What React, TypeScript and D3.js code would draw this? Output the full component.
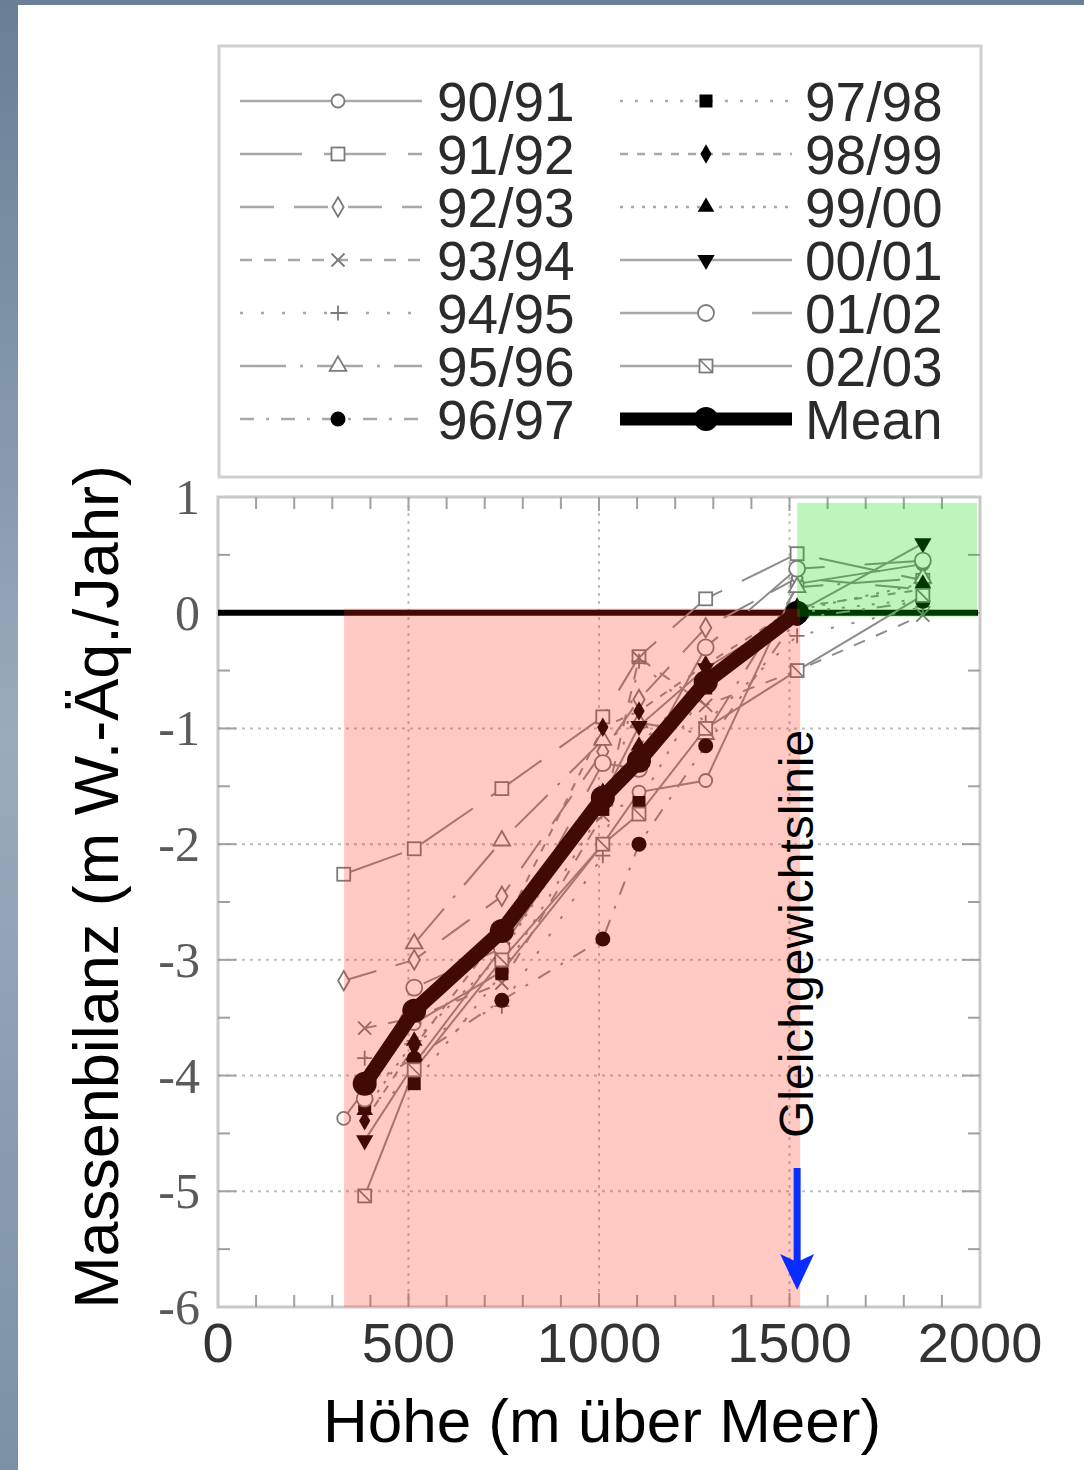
import React, { useRef, useEffect } from "react";
import * as d3 from "d3";

// elevation bands (m above sea level) where the stakes were read
const elevations = [330, 385, 515, 745, 1010, 1105, 1280, 1520, 1850];

// mass balance per year (m w.e.), null where no value
const b9091 = [-4.37, null, -3.55, -3.1, -2.0, -1.55, -1.45, 0.25, 0.42];
const b9192 = [-2.26, null, -2.04, -1.52, -0.9, -0.38, 0.12, 0.51, 0.28];
const b9293 = [-3.18, null, -3.0, -2.45, -1.2, -0.75, -0.13, 0.3, 0.2];
const b9394 = [null, -3.59, -3.5, -3.2, -1.75, -0.39, -0.8, -0.5, -0.02];
const b9495 = [null, -3.85, -3.7, -3.4, -2.1, -0.42, -0.95, -0.2, 0.05];
const b9596 = [null, null, -2.86, -1.97, -1.1, -0.95, -1.05, 0.22, 0.3];
const b9697 = [null, -4.1, -3.85, -3.35, -2.82, -2.0, -1.15, -0.05, 0.1];
const b9798 = [null, -4.25, -4.07, -3.12, -1.7, -1.64, -0.65, 0.0, 0.12];
const b9899 = [null, -4.39, -3.75, -2.75, -0.99, -0.85, -0.45, 0.05, 0.2];
const b9900 = [null, -4.3, -3.7, -2.95, -1.55, -1.15, -0.55, 0.02, 0.25];
const b0001 = [null, -4.56, -3.9, -2.9, -1.6, -0.98, -0.48, 0.0, 0.6];
const b0102 = [null, -4.2, -3.24, -2.9, -1.3, -1.35, -0.3, 0.38, 0.45];
const b0203 = [null, -5.04, -3.95, -3.0, -2.0, -1.74, -1.0, -0.5, 0.15];
const bMean = [null, -4.07, -3.44, -2.75, -1.6, -1.28, -0.6, 0.0, null];

const seriesLabels = ["90/91", "91/92", "92/93", "93/94", "94/95", "95/96", "96/97",
  "97/98", "98/99", "99/00", "00/01", "01/02", "02/03"];
const seriesValues = [b9091, b9192, b9293, b9394, b9495, b9596, b9697,
  b9798, b9899, b9900, b0001, b0102, b0203];
const seriesMarkers = ["circle", "square", "diamond", "x", "plus", "triangle", "dot",
  "fsquare", "fdiamond", "ftriangle", "ftriangleDown", "circleBig", "slashBox"];
const seriesDashes = ["", "62,22", "34,20", "12,12", "3,18", "46,14,3,14", "14,12,3,12",
  "3,12", "8,9", "3,8", "", "92,40", ""];

const xTicks = [0, 500, 1000, 1500, 2000];
const yTicks = [1, 0, -1, -2, -3, -4, -5, -6];

// ablation / accumulation zones
const ablationZone = { x0: 331, x1: 1528, y0: 0.035, y1: -6 };
const accumZone = { x0: 1520, x1: 1992, y0: 0.95, y1: -0.035 };
const elaElevation = 1520;

const SANS = "Liberation Sans, Arial, Helvetica, sans-serif";
const SERIF = "Liberation Serif, Times New Roman, serif";
const LINE_GRAY = "#8c8c8c";
const MARK_GRAY = "#7a7a7a";

function drawMarker(g, type, cx, cy) {
  const s = 6.5;
  const m = g.append("g").attr("transform", `translate(${cx},${cy})`);
  const open = (sel) => sel.attr("fill", "white").attr("stroke", MARK_GRAY).attr("stroke-width", 1.8);
  const filled = (sel) => sel.attr("fill", "black").attr("stroke", "none");
  switch (type) {
    case "circle":
      open(m.append("circle").attr("r", s));
      break;
    case "circleBig":
      open(m.append("circle").attr("r", s + 1.5));
      break;
    case "square":
      open(m.append("rect").attr("x", -s).attr("y", -s).attr("width", 2 * s).attr("height", 2 * s));
      break;
    case "slashBox":
      open(m.append("rect").attr("x", -s).attr("y", -s).attr("width", 2 * s).attr("height", 2 * s));
      m.append("line").attr("x1", -s).attr("y1", -s).attr("x2", s).attr("y2", s)
        .attr("stroke", MARK_GRAY).attr("stroke-width", 1.6);
      break;
    case "diamond":
      open(m.append("path").attr("d", d3.symbol(d3.symbolDiamond, 110)()));
      break;
    case "triangle":
      open(m.append("path").attr("d", d3.symbol(d3.symbolTriangle, 120)()));
      break;
    case "x":
      m.append("path").attr("d", `M${-s},${-s}L${s},${s}M${-s},${s}L${s},${-s}`)
        .attr("stroke", MARK_GRAY).attr("stroke-width", 1.8);
      break;
    case "plus":
      m.append("path").attr("d", `M${-s - 1},0L${s + 1},0M0,${-s - 1}L0,${s + 1}`)
        .attr("stroke", MARK_GRAY).attr("stroke-width", 1.8);
      break;
    case "dot":
      filled(m.append("circle").attr("r", s + 1));
      break;
    case "fsquare":
      filled(m.append("rect").attr("x", -s).attr("y", -s).attr("width", 2 * s).attr("height", 2 * s));
      break;
    case "fdiamond":
      filled(m.append("path").attr("d", d3.symbol(d3.symbolDiamond, 110)()));
      break;
    case "ftriangle":
      filled(m.append("path").attr("d", d3.symbol(d3.symbolTriangle, 120)()));
      break;
    case "ftriangleDown":
      filled(m.append("path").attr("d", d3.symbol(d3.symbolTriangle, 130)()).attr("transform", "rotate(180)"));
      break;
    default:
      break;
  }
}

function MassBalanceChart() {
  const svgRef = useRef(null);

  useEffect(() => {
    const svg = d3.select(svgRef.current);
    svg.selectAll("*").remove();

    const W = 1084;
    const H = 1470;
    const x = d3.scaleLinear().domain([0, 2000]).range([218, 980]);
    const y = d3.scaleLinear().domain([-6, 1]).range([1307, 497]);

    // page background + white slide
    const grad = svg.append("defs").append("linearGradient")
      .attr("id", "bg").attr("x1", 0).attr("y1", 0).attr("x2", 0).attr("y2", 1);
    grad.append("stop").attr("offset", "0%").attr("stop-color", "#687f96");
    grad.append("stop").attr("offset", "50%").attr("stop-color", "#9aabbb");
    grad.append("stop").attr("offset", "100%").attr("stop-color", "#7c91a6");
    svg.append("rect").attr("width", W).attr("height", H).attr("fill", "url(#bg)");
    svg.append("rect").attr("x", 18).attr("y", 5).attr("width", W - 18).attr("height", H - 5).attr("fill", "white");

    // ---------- legend ----------
    const legend = svg.append("g");
    legend.append("rect").attr("x", 219).attr("y", 46).attr("width", 762).attr("height", 431)
      .attr("fill", "white").attr("stroke", "#cfcfcf").attr("stroke-width", 3);

    const legendItems = seriesLabels.map((label, i) => ({
      label, marker: seriesMarkers[i], dash: seriesDashes[i], mean: false,
    }));
    legendItems.push({ label: "Mean", marker: "mean", dash: "", mean: true });

    legendItems.forEach((item, i) => {
      const col = i < 7 ? 0 : 1;
      const row = i % 7;
      const cy = 101 + row * 53;
      const lx0 = col === 0 ? 240 : 620;
      const lx1 = col === 0 ? 422 : 792;
      const mx = col === 0 ? 338 : 706;
      const tx = col === 0 ? 437 : 805;
      if (item.mean) {
        legend.append("line").attr("x1", lx0).attr("x2", lx1).attr("y1", cy).attr("y2", cy)
          .attr("stroke", "black").attr("stroke-width", 13);
        legend.append("circle").attr("cx", mx).attr("cy", cy).attr("r", 12).attr("fill", "black");
      } else {
        legend.append("line").attr("x1", lx0).attr("x2", lx1).attr("y1", cy).attr("y2", cy)
          .attr("stroke", "#a8a8a8").attr("stroke-width", 2.5)
          .attr("stroke-dasharray", item.dash || null);
        drawMarker(legend, item.marker, mx, cy);
      }
      legend.append("text").attr("x", tx).attr("y", cy + 20)
        .attr("font-family", SANS).attr("font-size", 55).attr("fill", "#2b2b2b")
        .text(item.label);
    });

    // ---------- plot frame, grid, ticks ----------
    const plot = svg.append("g");
    plot.append("rect").attr("x", x(0)).attr("y", y(1)).attr("width", x(2000) - x(0)).attr("height", y(-6) - y(1))
      .attr("fill", "white").attr("stroke", "#c8c8c8").attr("stroke-width", 3);

    [500, 1000, 1500].forEach((v) => {
      plot.append("line").attr("x1", x(v)).attr("x2", x(v)).attr("y1", y(1)).attr("y2", y(-6))
        .attr("stroke", "#bdbdbd").attr("stroke-width", 2).attr("stroke-dasharray", "3,5");
    });
    [-1, -2, -3, -4, -5].forEach((v) => {
      plot.append("line").attr("x1", x(0)).attr("x2", x(2000)).attr("y1", y(v)).attr("y2", y(v))
        .attr("stroke", "#bdbdbd").attr("stroke-width", 2).attr("stroke-dasharray", "3,5");
    });

    d3.range(100, 2000, 100).forEach((v) => {
      const len = v % 500 === 0 ? 14 : 12;
      plot.append("line").attr("x1", x(v)).attr("x2", x(v)).attr("y1", y(1)).attr("y2", y(1) + len)
        .attr("stroke", "#a0a0a0").attr("stroke-width", 2);
      plot.append("line").attr("x1", x(v)).attr("x2", x(v)).attr("y1", y(-6)).attr("y2", y(-6) - len)
        .attr("stroke", "#a0a0a0").attr("stroke-width", 2);
    });
    d3.range(-5.5, 1, 0.5).forEach((v) => {
      const len = Number.isInteger(v) ? 18 : 12;
      plot.append("line").attr("x1", x(0)).attr("x2", x(0) + len).attr("y1", y(v)).attr("y2", y(v))
        .attr("stroke", "#a0a0a0").attr("stroke-width", 2);
      plot.append("line").attr("x1", x(2000)).attr("x2", x(2000) - len).attr("y1", y(v)).attr("y2", y(v))
        .attr("stroke", "#a0a0a0").attr("stroke-width", 2);
    });

    // zero line
    plot.append("line").attr("x1", x(0)).attr("x2", x(2000) - 2).attr("y1", y(0)).attr("y2", y(0))
      .attr("stroke", "black").attr("stroke-width", 6);

    // ---------- data ----------
    const line = d3.line()
      .defined((d) => d[1] !== null)
      .x((d) => x(d[0]))
      .y((d) => y(d[1]));

    seriesValues.forEach((vals, i) => {
      const pts = elevations.map((e, j) => [e, vals[j]]);
      plot.append("path").attr("d", line(pts.filter((p) => p[1] !== null)))
        .attr("fill", "none").attr("stroke", LINE_GRAY).attr("stroke-width", 2)
        .attr("stroke-dasharray", seriesDashes[i] || null);
    });
    seriesValues.forEach((vals, i) => {
      elevations.forEach((e, j) => {
        if (vals[j] !== null) drawMarker(plot, seriesMarkers[i], x(e), y(vals[j]));
      });
    });

    const meanPts = elevations.map((e, j) => [e, bMean[j]]).filter((p) => p[1] !== null);
    plot.append("path").attr("d", line(meanPts))
      .attr("fill", "none").attr("stroke", "black").attr("stroke-width", 15)
      .attr("stroke-linejoin", "round");
    plot.selectAll(".meanpt").data(meanPts).enter().append("circle")
      .attr("cx", (d) => x(d[0])).attr("cy", (d) => y(d[1])).attr("r", 12).attr("fill", "black");

    // ---------- zone overlays ----------
    plot.append("rect")
      .attr("x", x(ablationZone.x0)).attr("y", y(ablationZone.y0))
      .attr("width", x(ablationZone.x1) - x(ablationZone.x0))
      .attr("height", y(ablationZone.y1) - y(ablationZone.y0))
      .attr("fill", "rgb(255,40,20)").attr("fill-opacity", 0.25);
    plot.append("rect")
      .attr("x", x(accumZone.x0)).attr("y", y(accumZone.y0))
      .attr("width", x(accumZone.x1) - x(accumZone.x0))
      .attr("height", y(accumZone.y1) - y(accumZone.y0))
      .attr("fill", "rgb(0,215,0)").attr("fill-opacity", 0.26);

    // equilibrium line arrow
    const ax = x(elaElevation);
    plot.append("line").attr("x1", ax).attr("x2", ax).attr("y1", 1168).attr("y2", 1262)
      .attr("stroke", "#0b2cff").attr("stroke-width", 7);
    plot.append("path")
      .attr("d", `M${ax - 17},${1254}L${ax},${1262}L${ax + 17},${1254}L${ax},${1290}Z`)
      .attr("fill", "#0b2cff");
    plot.append("text")
      .attr("transform", `translate(${ax + 16},1138) rotate(-90)`)
      .attr("font-family", SANS).attr("font-size", 48).attr("fill", "black")
      .text("Gleichgewichtslinie");

    // ---------- tick labels ----------
    xTicks.forEach((v) => {
      svg.append("text").attr("x", x(v)).attr("y", 1362).attr("text-anchor", "middle")
        .attr("font-family", SANS).attr("font-size", 56).attr("fill", "#333")
        .text(String(v));
    });
    yTicks.forEach((v) => {
      svg.append("text").attr("x", 200).attr("y", y(v)).attr("dy", "0.34em").attr("text-anchor", "end")
        .attr("font-family", SERIF).attr("font-size", 50).attr("fill", "#5a5a5a")
        .text(String(v));
    });

    // ---------- axis titles ----------
    svg.append("text").attr("x", 602).attr("y", 1442).attr("text-anchor", "middle")
      .attr("font-family", SANS).attr("font-size", 62).attr("fill", "black")
      .text("Höhe (m über Meer)");
    svg.append("text")
      .attr("transform", "translate(118,887) rotate(-90)")
      .attr("text-anchor", "middle")
      .attr("font-family", SANS).attr("font-size", 63).attr("fill", "black")
      .text("Massenbilanz (m W.-Äq./Jahr)");
  }, []);

  return (
    <svg ref={svgRef} width={1084} height={1470}
      style={{ position: "absolute", left: 0, top: 0, display: "block" }} />
  );
}

export default function App() {
  return <MassBalanceChart />;
}
